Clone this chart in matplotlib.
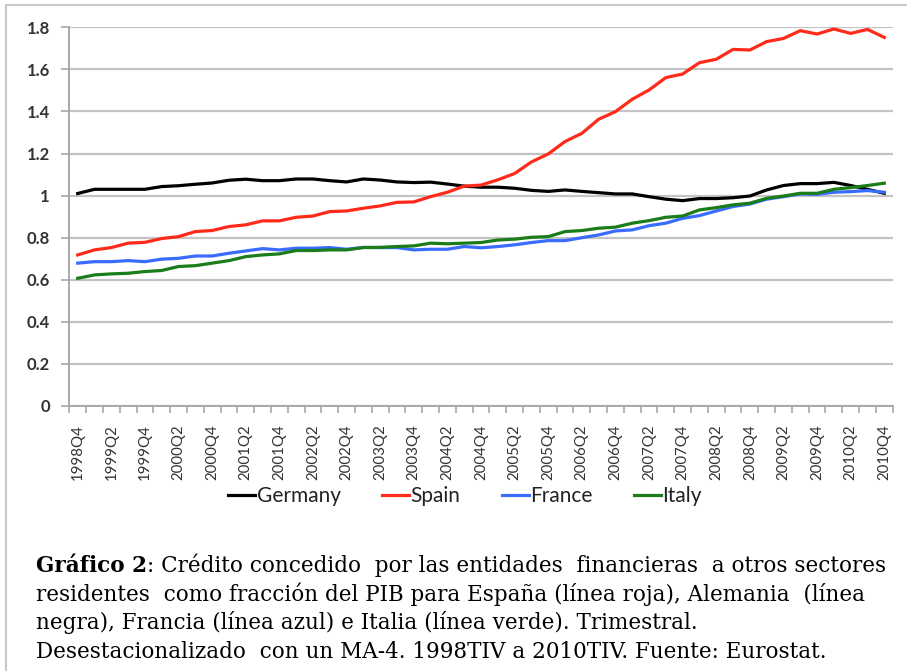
import matplotlib.pyplot as plt
from matplotlib.lines import Line2D

# quarterly data, 1998Q4 .. 2010Q4 (49 quarters)
quarters = [f"{y}Q{q}" for y in range(1998, 2011) for q in (1, 2, 3, 4)][3:]

germany = [1.01, 1.03, 1.03, 1.03, 1.03, 1.043, 1.047, 1.054, 1.06, 1.073,
           1.078, 1.071, 1.071, 1.079, 1.079, 1.071, 1.065, 1.079, 1.074, 1.065,
           1.062, 1.064, 1.055, 1.045, 1.04, 1.04, 1.035, 1.025, 1.02, 1.027,
           1.02, 1.014, 1.008, 1.008, 0.995, 0.983, 0.976, 0.986, 0.986, 0.99,
           0.998, 1.027, 1.048, 1.057, 1.057, 1.063, 1.048, 1.03, 1.011]
spain = [0.718, 0.742, 0.753, 0.774, 0.778, 0.796, 0.805, 0.829, 0.834, 0.853,
         0.861, 0.88, 0.88, 0.897, 0.903, 0.924, 0.927, 0.94, 0.951, 0.968,
         0.97, 0.995, 1.016, 1.045, 1.05, 1.075, 1.105, 1.16, 1.198, 1.257,
         1.296, 1.363, 1.399, 1.458, 1.502, 1.561, 1.578, 1.632, 1.648, 1.695,
         1.692, 1.732, 1.747, 1.784, 1.768, 1.792, 1.771, 1.79, 1.752]
france = [0.679, 0.686, 0.686, 0.691, 0.686, 0.698, 0.702, 0.713, 0.713, 0.726,
          0.737, 0.748, 0.742, 0.75, 0.75, 0.753, 0.745, 0.754, 0.753, 0.753,
          0.742, 0.745, 0.745, 0.758, 0.752, 0.758, 0.766, 0.777, 0.786, 0.786,
          0.80, 0.813, 0.832, 0.837, 0.857, 0.869, 0.892, 0.905, 0.927, 0.948,
          0.96, 0.983, 0.995, 1.008, 1.006, 1.016, 1.019, 1.024, 1.016]
italy = [0.607, 0.623, 0.628, 0.631, 0.639, 0.644, 0.663, 0.667, 0.679, 0.691,
         0.71, 0.718, 0.723, 0.739, 0.739, 0.742, 0.742, 0.753, 0.754, 0.758,
         0.761, 0.774, 0.771, 0.774, 0.777, 0.789, 0.793, 0.802, 0.805, 0.829,
         0.834, 0.845, 0.85, 0.869, 0.881, 0.897, 0.903, 0.932, 0.943, 0.956,
         0.964, 0.987, 0.998, 1.011, 1.011, 1.03, 1.038, 1.048, 1.059]

series = [("Germany", germany, "#000000"),
          ("Spain", spain, "#ff2a1a"),
          ("France", france, "#3a6cff"),
          ("Italy", italy, "#1a7d1a")]

y_ticks = [0, 0.2, 0.4, 0.6, 0.8, 1, 1.2, 1.4, 1.6, 1.8]
y_labels = ["0", "0.2", "0.4", "0.6", "0.8", "1", "1.2", "1.4", "1.6", "1.8"]

caption_bold = "Gráfico 2"
caption = [
    ": Crédito concedido  por las entidades  financieras  a otros sectores",
    "residentes  como fracción del PIB para España (línea roja), Alemania  (línea",
    "negra), Francia (línea azul) e Italia (línea verde). Trimestral.",
    "Desestacionalizado  con un MA-4. 1998TIV a 2010TIV. Fuente: Eurostat.",
]

tick_col = "#333333"
grid_col = "#c4c4c4"
cap_font = dict(fontsize=15.5, family="DejaVu Serif")

fig = plt.figure(figsize=(9.07, 6.71), dpi=100)
W, H = 907, 671
ax = fig.add_axes([69.3 / W, 1 - 406 / H, (892.7 - 69.3) / W, (406 - 27.3) / H])

x = list(range(len(quarters)))
for name, vals, col in series:
    ax.plot(x, vals, color=col, lw=2.3, label=name, solid_joinstyle="round")

ax.set_xlim(-0.5, len(quarters) - 0.5)
ax.set_ylim(0, 1.8)
ax.set_yticks(y_ticks)
ax.set_yticklabels(y_labels)
ax.yaxis.grid(True, color=grid_col, lw=1.6)
ax.set_axisbelow(True)

ax.set_xticks(x[::2])
ax.set_xticklabels(quarters[::2], rotation=90, fontsize=10.8, color=tick_col,
                   family="Lato")
ax.set_xticks([i - 0.5 for i in range(len(quarters) + 1)], minor=True)
ax.tick_params(axis="x", which="major", length=0, pad=13)
ax.tick_params(axis="x", which="minor", length=5, color="#a8a8a8", width=1.2)
ax.tick_params(axis="y", length=6, color="#a8a8a8", width=1.2, pad=8,
               labelsize=12, labelcolor=tick_col)
for lab in ax.get_yticklabels():
    lab.set_family("Lato")
    lab.set_fontweight("bold")

for s in ("top", "right"):
    ax.spines[s].set_visible(False)
for s in ("left", "bottom"):
    ax.spines[s].set_color("#a8a8a8")
    ax.spines[s].set_linewidth(1.4)

handles = [Line2D([], [], color=c, lw=2.3) for _, _, c in series]
fig.legend(handles, [n for n, _, _ in series], loc="center",
           bbox_to_anchor=(465 / W, 1 - 496 / H), ncol=4, frameon=False,
           prop={"family": "Lato", "size": 15}, handlelength=1.3,
           handletextpad=0.05, columnspacing=2.0, labelcolor="#222222")

# caption below the chart
y0 = 1 - 577 / H
step = 28.6 / H
bold = fig.text(36 / W, y0, caption_bold, fontweight="bold", va="bottom", **cap_font)
fig.add_artist(plt.Annotation(caption[0], xy=(1, 0), xycoords=bold,
                              va="bottom", **cap_font))
for k, line in enumerate(caption[1:], start=1):
    fig.text(36 / W, y0 - k * step, line, va="bottom", **cap_font)

# light frame on top and left edge
fig.add_artist(Line2D([6 / W, 6 / W], [0, 1 - 5 / H], color="#c8c8c8", lw=1.5))
fig.add_artist(Line2D([6 / W, 1], [1 - 5 / H, 1 - 5 / H], color="#c8c8c8", lw=1.5))

fig.savefig("out.png", dpi=100)
